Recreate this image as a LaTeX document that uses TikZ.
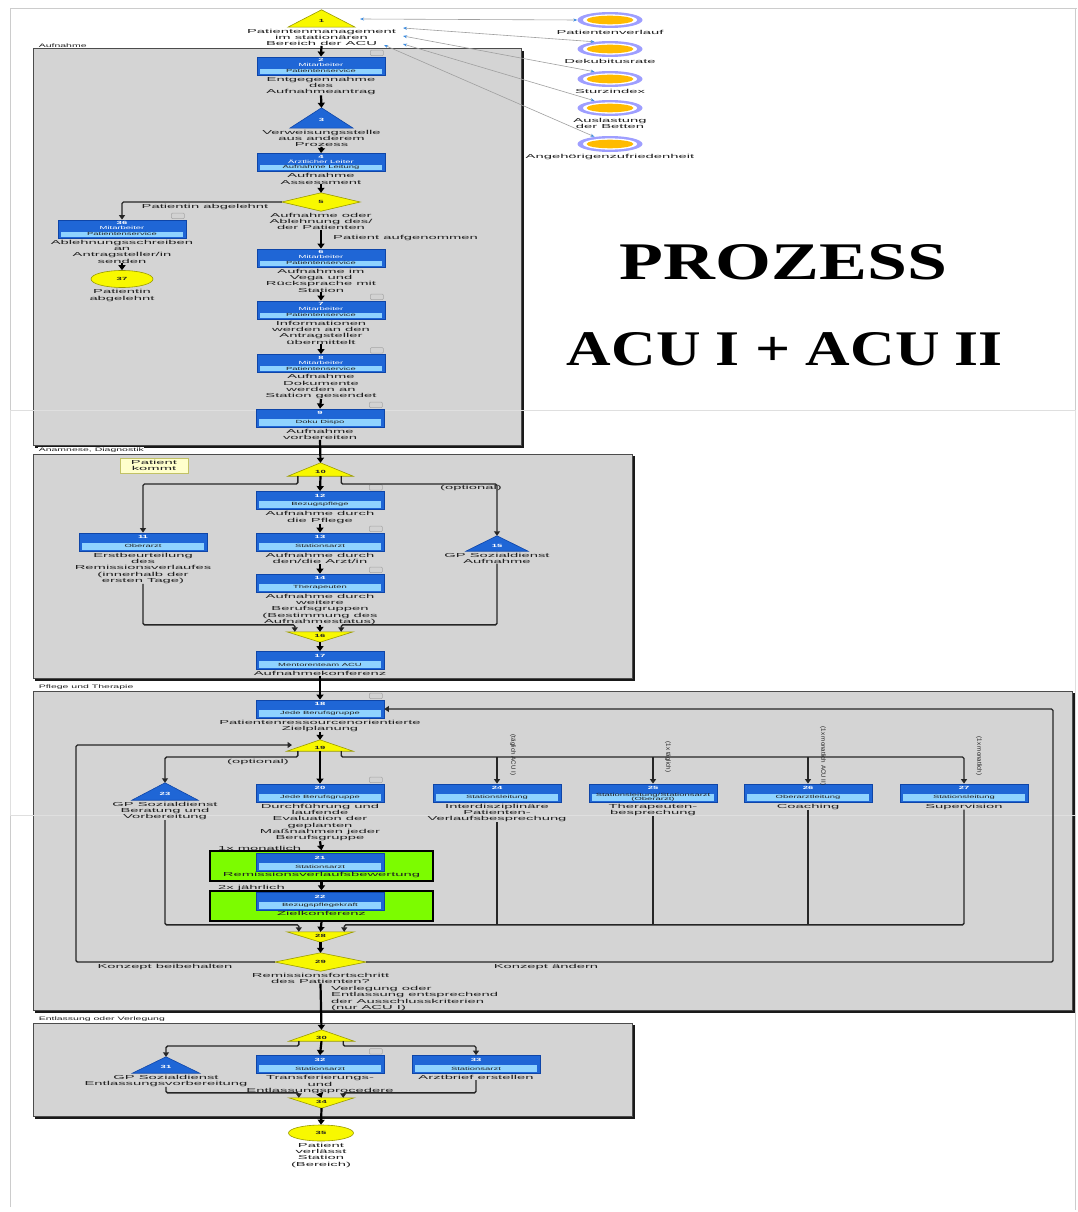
\documentclass[tikz,border=0pt]{standalone}
\usepackage{fontspec}
\usepackage{graphicx}
\setmainfont{Liberation Serif}
\newfontfamily\wf{Liberation Sans}[FakeStretch=2.55]
\newfontfamily\wg{Liberation Sans}[FakeStretch=2.1]
\newfontfamily\vf{Liberation Sans}
\usetikzlibrary{arrows.meta,calc,shapes.geometric}
\definecolor{dblue}{HTML}{1F66D6}
\definecolor{lblue}{HTML}{8FD3FF}
\definecolor{bbord}{HTML}{0E45A8}
\definecolor{lanef}{HTML}{D4D4D4}
\definecolor{ylw}{HTML}{F8F800}
\definecolor{yb}{HTML}{9A9A00}
\definecolor{ring}{HTML}{9E9EFF}
\definecolor{core}{HTML}{FFBB00}
\definecolor{grn}{HTML}{7CFC00}
\definecolor{txt}{HTML}{202020}
\definecolor{notef}{HTML}{FFFFCC}
\definecolor{assocblue}{HTML}{3C8CE0}
\tikzset{
 lbl/.style={font=\wf\fontsize{5.8}{6.3}\selectfont, align=center, inner sep=0pt, text=txt},
 lanelbl/.style={font=\wg\fontsize{5}{5}\selectfont, inner sep=0.6pt, fill=white, anchor=south west, text=txt},
 vlbl/.style={font=\vf\fontsize{6.2}{6.2}\selectfont, inner sep=0pt, text=txt, rotate=-90},
 tbox/.style={rectangle, minimum width=128pt, minimum height=18pt, inner sep=0pt, fill=dblue, draw=bbord, line width=0.8pt},
 numtxt/.style={font=\wg\fontsize{4.5}{4.5}\selectfont\bfseries, inner sep=0pt},
 roletxt/.style={font=\wg\fontsize{4.5}{4.6}\selectfont, inner sep=0pt, align=center},
 main/.style={line width=2.2pt, draw=black, -{Triangle[length=5pt,width=7pt]}},
 br/.style={line width=1.4pt, draw=black!85, rounded corners=1.5pt},
 bra/.style={br, -{Triangle[length=4.5pt,width=6pt]}},
 assoc/.style={draw=gray!75, line width=0.6pt, {Stealth[length=4pt,width=3pt,color=assocblue]}-{Stealth[length=4pt,width=3pt,color=assocblue]}},
 ytri/.style={fill=ylw, draw=yb, line width=0.6pt},
 btri/.style={fill=dblue, draw=bbord, line width=0.6pt},
 icon/.style={fill=gray!35, draw=gray!70, line width=0.5pt, rounded corners=1pt},
 grnbox/.style={rectangle, fill=grn, draw=black, line width=1.3pt, minimum width=223pt, minimum height=30pt, inner sep=0pt},
 yell/.style={ellipse, fill=ylw, draw=yb, line width=0.6pt, inner sep=0pt, font=\wg\fontsize{4.5}{4.5}\selectfont\bfseries, text=txt},
}
% lane: x1,y1,x2,y2
\newcommand\lane[4]{%
 \fill[lanef] (#1,#2) rectangle (#3,#4);
 \draw[black!70,line width=1pt] (#1,#2) rectangle (#3,#4);
 \draw[black!90,line width=2pt] (#1+2,#4+1.5) -- (#3+1.5,#4+1.5) -- (#3+1.5,#2+2);}
% task box: name,x,y,num,dark role,light role,icon
\newcommand\tb[7]{%
 \node[tbox] (#1) at (#2,#3) {};
 \if\relax\detokenize{#5}\relax
   \fill[lblue] ($(#1.south west)+(3pt,1.5pt)$) rectangle ($(#1.east)+(-3pt,-0.5pt)$);
   \node[numtxt,text=white] at ($(#1.center)+(0,4.6pt)$) {#4};
   \node[roletxt,text=txt] at ($(#1.center)+(0,-4.3pt)$) {#6};
 \else
   \fill[lblue] ($(#1.south west)+(3pt,1.5pt)$) rectangle ($(#1.east)+(-3pt,-2.6pt)$);
   \node[numtxt,text=white] at ($(#1.center)+(0,6pt)$) {#4};
   \node[roletxt,text=white] at ($(#1.center)+(0,0.9pt)$) {#5};
   \node[roletxt,text=txt] at ($(#1.center)+(0,-5.3pt)$) {#6};
 \fi
 \ifnum#7=1 \draw[icon] ($(#1.north east)+(-15pt,1pt)$) rectangle ($(#1.north east)+(-2pt,6.5pt)$);\fi}
% label under node: name, node, text
\newcommand\lb[3]{\node[lbl,anchor=north] (#1) at ($(#2.south)+(0,-1.5pt)$) {#3};}
% up triangle: name,x,y,w,h,style,num,numcolor
\newcommand\utri[8]{%
 \node[inner sep=0pt,minimum width=#4pt,minimum height=#5pt] (#1) at (#2,#3) {};
 \filldraw[#6] (#1.south west) -- (#1.north) -- (#1.south east) -- cycle;
 \node[numtxt,text=#8] at ($(#1.center)+(0,-2pt)$) {#7};}
% down triangle
\newcommand\dtri[6]{%
 \node[inner sep=0pt,minimum width=#4pt,minimum height=#5pt] (#1) at (#2,#3) {};
 \filldraw[ytri] (#1.north west) -- (#1.north east) -- (#1.south) -- cycle;
 \node[numtxt,text=txt] at ($(#1.center)+(0,1.5pt)$) {#6};}
% diamond
\newcommand\dia[6]{%
 \node[inner sep=0pt,minimum width=#4pt,minimum height=#5pt] (#1) at (#2,#3) {};
 \filldraw[ytri] (#1.west) -- (#1.north) -- (#1.east) -- (#1.south) -- cycle;
 \node[numtxt,text=txt] at (#1.center) {#6};}
% kpi circle
\newcommand\kpi[4]{%
 \node[ellipse, fill=ring, minimum width=65pt, minimum height=16pt, inner sep=0pt] (#1) at (#2,#3) {};
 \fill[white] (#1.center) ellipse [x radius=27pt, y radius=5.6pt];
 \fill[core] (#1.center) ellipse [x radius=23.5pt, y radius=4.3pt];
 \lb{#1l}{#1}{#4}}
\begin{document}
\begin{tikzpicture}[x=1pt,y=-1pt]
\useasboundingbox (0,0) rectangle (1077,1212);
\fill[white] (0,0) rectangle (1077,1212);
\draw[gray!40, line width=0.8pt] (10,1207) -- (10,8) -- (1077,8);
\draw[gray!40, line width=0.8pt] (1075,8) -- (1075,1210);
% lanes
\lane{33}{49}{521}{445}
\lane{33}{454}{632}{678}
\lane{33}{691}{1072}{1010}
\lane{33}{1023}{632}{1116}
\draw[gray!25, line width=1pt] (10,410) rectangle (1075,815);
\node[lanelbl] (ln1) at (38,48) {Aufnahme};
\node[lanelbl] (ln2) at (38,453.2) {Anamnese, Diagnostik};
\node[lanelbl] (ln3) at (38,690) {Pflege und Therapie};
\node[lanelbl] (ln4) at (38,1022) {Entlassung oder Verlegung};
% title
\node[inner sep=0pt] (title1) at (783.5,262.5) {\resizebox{327pt}{35pt}{\bfseries PROZESS}};
\node[inner sep=0pt] (title2) at (785,349.5) {\resizebox{436pt}{33pt}{\bfseries ACU I + ACU II}};
% ---------- Aufnahme
\utri{T1}{321.5}{18.5}{67}{17}{ytri}{1}{txt}
\lb{T1l}{T1}{Patientenmanagement\\im stationären\\Bereich der ACU}
\kpi{K1}{610}{20}{Patientenverlauf}
\kpi{K2}{610}{49}{Dekubitusrate}
\kpi{K3}{610}{79}{Sturzindex}
\kpi{K4}{610}{108}{Auslastung\\der Betten}
\kpi{K5}{610}{144}{Angehörigenzufriedenheit}
\coordinate (a1) at (360,19);
\coordinate (a2) at (403,28);
\coordinate (a3) at (403,36);
\coordinate (a4) at (403,44);
\coordinate (a5) at (384,45);
\draw[assoc] (a1) -- (K1.west);
\draw[assoc] (a2) -- (K2.155);
\draw[assoc] (a3) -- (K3.155);
\draw[assoc] (a4) -- (K4.155);
\draw[assoc] (a5) -- (K5.155);
\tb{B2}{321}{66}{2}{Mitarbeiter}{Patientenservice}{1}
\lb{B2l}{B2}{Entgegennahme\\des\\Aufnahmeantrag}
\utri{T3}{321.5}{118}{63}{20}{btri}{3}{white}
\lb{T3l}{T3}{Verweisungsstelle\\aus anderem\\Prozess}
\tb{B4}{321}{162.5}{4}{Ärztlicher Leiter}{Aufnahme Leitung}{0}
\lb{B4l}{B4}{Aufnahme\\Assessment}
\dia{D5}{321}{202}{78}{18}{5}
\lb{D5l}{D5}{Aufnahme oder\\Ablehnung des/\\der Patienten}
\tb{B36}{122}{229}{36}{Mitarbeiter}{Patientenservice}{1}
\lb{B36l}{B36}{Ablehnungsschreiben\\an\\Antragsteller/in\\senden}
\node[yell, minimum width=62pt, minimum height=17pt] (E37) at (122,279) {37};
\lb{E37l}{E37}{Patientin\\abgelehnt}
\tb{B6}{321}{258}{6}{Mitarbeiter}{Patientenservice}{0}
\lb{B6l}{B6}{Aufnahme im\\Vega und\\Rücksprache mit\\Station}
\tb{B7}{321}{310}{7}{Mitarbeiter}{Patientenservice}{1}
\lb{B7l}{B7}{Informationen\\werden an den\\Antragsteller\\übermittelt}
\tb{B8}{321}{363.5}{8}{Mitarbeiter}{Patientenservice}{1}
\lb{B8l}{B8}{Aufnahme\\Dokumente\\werden an\\Station gesendet}
\tb{B9}{320}{418}{9}{}{Doku Dispo}{1}
\lb{B9l}{B9}{Aufnahme\\vorbereiten}
\draw[main] (T1l.south) -- (B2.north);
\draw[main] (B2l.south) -- (T3.north);
\draw[main] (T3l.south) -- (B4.north);
\draw[main] (B4l.south) -- (D5.north);
\draw[main] (D5l.south) -- (B6.north);
\node[lbl,anchor=west] (lpa) at (333,238) {Patient aufgenommen};
\draw[bra] (D5.west) -| (B36.north);
\node[lbl,anchor=north] (lpb) at (205,204) {Patientin abgelehnt};
\draw[main] (B36l.south) -- (E37.north);
\draw[main] (B6l.south) -- (B7.north);
\draw[main] (B7l.south) -- (B8.north);
\draw[main] (B8l.south) -- (B9.north);
% ---------- Anamnese, Diagnostik
\node[lbl, fill=notef, draw=yb!60, line width=0.5pt, minimum width=68pt, minimum height=15pt] (note) at (154,465.5) {Patient\\kommt};
\utri{T10}{320.5}{469.5}{65}{13}{ytri}{10}{txt}
\draw[main] (B9l.south) -- (T10.north);
\tb{B12}{320}{500.5}{12}{}{Bezugspflege}{1}
\lb{B12l}{B12}{Aufnahme durch\\die Pflege}
\tb{B13}{320}{542}{13}{}{Stationsarzt}{1}
\lb{B13l}{B13}{Aufnahme durch\\den/die Arzt/in}
\tb{B14}{320}{583}{14}{}{Therapeuten}{1}
\lb{B14l}{B14}{Aufnahme durch\\weitere\\Berufsgruppen\\(Bestimmung des\\Aufnahmestatus)}
\tb{B11}{143}{542}{11}{}{Oberarzt}{0}
\lb{B11l}{B11}{Erstbeurteilung\\des\\Remissionsverlaufes\\(innerhalb der\\ersten Tage)}
\utri{T15}{497}{543.5}{62}{15}{btri}{15}{white}
\lb{T15l}{T15}{GP Sozialdienst\\Aufnahme}
\node[lbl] (opt1) at (471,488) {(optional)};
\dtri{T16}{320}{637}{66}{10}{16}
\tb{B17}{320}{660.5}{17}{}{Mentorenteam ACU}{0}
\lb{B17l}{B17}{Aufnahmekonferenz}
\draw[main] (T10.south) -- (B12.north);
\draw[bra] ($(T10.south west)+(10pt,0)$) |- (143,484) -- (B11.north);
\draw[bra] ($(T10.south east)+(-12pt,0)$) |- (497,484) -- (T15.north);
\draw[main] (B12l.south) -- (B13.north);
\draw[main] (B13l.south) -- (B14.north);
\draw[main] (B14l.south) -- (T16.north);
\draw[bra] (B11l.south) |- ($(T16.north west)+(8pt,7pt)$) -- ($(T16.north west)+(8pt,0)$);
\draw[bra] (T15l.south) |- ($(T16.north east)+(-12pt,7pt)$) -- ($(T16.north east)+(-12pt,0)$);
\draw[main] (T16.south) -- (B17.north);
% ---------- Pflege und Therapie
\tb{B18}{320}{709}{18}{}{Jede Berufsgruppe}{1}
\lb{B18l}{B18}{Patientenressourcenorientierte\\Zielplanung}
\draw[main] (B17l.south) -- (B18.north);
\utri{T19}{320}{745.5}{66}{11}{ytri}{19}{txt}
\draw[main] (B18l.south) -- (T19.north);
\utri{T23}{165}{791.5}{66}{17}{btri}{23}{white}
\lb{T23l}{T23}{GP Sozialdienst\\Beratung und\\Vorbereitung}
\tb{B20}{320}{793}{20}{}{Jede Berufsgruppe}{1}
\lb{B20l}{B20}{Durchführung und\\laufende\\Evaluation der\\geplanten\\Maßnahmen jeder\\Berufsgruppe}
\tb{B24}{497}{793}{24}{}{Stationsleitung}{0}
\lb{B24l}{B24}{Interdisziplinäre\\Patienten-\\Verlaufsbesprechung}
\tb{B25}{653}{793}{25}{}{Stationsleitung/Stationsarzt\\(Oberarzt)}{0}
\lb{B25l}{B25}{Therapeuten-\\besprechung}
\tb{B26}{808}{793}{26}{}{Oberarztleitung}{0}
\lb{B26l}{B26}{Coaching}
\tb{B27}{964}{793}{27}{}{Stationsleitung}{0}
\lb{B27l}{B27}{Supervision}
\draw[main] (T19.south) -- (B20.north);
\draw[bra] ($(T19.south west)+(11pt,0)$) |- (165,757) -- (T23.north);
\node[lbl] (opt2) at (258,762) {(optional)};
\draw[bra] ($(T19.south east)+(-12pt,0)$) |- (964,757) -- (B27.north);
\coordinate (j24) at (497,757);
\coordinate (j25) at (653,757);
\coordinate (j26) at (808,757);
\draw[bra] (j24) -- (B24.north);
\draw[bra] (j25) -- (B25.north);
\draw[bra] (j26) -- (B26.north);
\node[vlbl] (v24) at (513,755) {(täglich ACU I)};
\node[vlbl] (v25) at (668,757) {(1x täglich)};
\node[vlbl] (v26) at (823,756) {(1x monatlich ACU II)};
\node[vlbl] (v27) at (979,756) {(1x monatlich)};
\node[grnbox] (G1) at (321.5,866) {};
\tb{B21}{320}{862.5}{21}{}{Stationsarzt}{0}
\node[lbl,anchor=north] (B21l) at (321.5,872.5) {Remissionsverlaufsbewertung};
\node[lbl,anchor=south west] (m1) at (218,851) {1x monatlich};
\node[grnbox] (G2) at (321.5,906) {};
\tb{B22}{320}{901.5}{22}{}{Bezugspflegekraft}{0}
\node[lbl,anchor=north] (B22l) at (321.5,911.5) {Zielkonferenz};
\node[lbl,anchor=south west] (m2) at (218,891) {2x jährlich};
\draw[main] (B20l.south) -- (G1.north);
\draw[main] (G1.south) -- (G2.north);
\dtri{T28}{320.5}{937}{67}{10}{28}
\draw[main] (G2.south) -- (T28.north);
\draw[bra] (T23l.south) |- ($(T28.north west)+(12pt,7pt)$) -- ($(T28.north west)+(12pt,0)$);
\draw[bra] (B27l.south) |- ($(T28.north east)+(-10pt,7pt)$) -- ($(T28.north east)+(-10pt,0)$);
\coordinate (k24) at (497,925);
\coordinate (k25) at (653,925);
\coordinate (k26) at (808,925);
\draw[br] (B24l.south) -- (k24);
\draw[br] (B25l.south) -- (k25);
\draw[br] (B26l.south) -- (k26);
\dia{D29}{320.5}{962}{91}{18}{29}
\lb{D29l}{D29}{Remissionsfortschritt\\des Patienten?}
\draw[main] (T28.south) -- (D29.north);
\coordinate (c19) at (292,745);
\draw[bra] (D29.west) -| (76,745) -- (c19);
\node[lbl] (kb) at (165,967) {Konzept beibehalten};
\draw[bra] (D29.east) -| (1053,709) -- (B18.east);
\node[lbl] (ka) at (546,967) {Konzept ändern};
% ---------- Entlassung oder Verlegung
\utri{T30}{321.5}{1035.5}{65}{11}{ytri}{30}{txt}
\draw[main] (D29l.south) -- (T30.north);
\node[lbl,anchor=north west,align=left] (vl) at (331,986) {Verlegung oder\\Entlassung entsprechend\\der Ausschlusskriterien\\(nur ACU I)};
\utri{T31}{166}{1065}{67}{16}{btri}{31}{white}
\lb{T31l}{T31}{GP Sozialdienst\\Entlassungsvorbereitung}
\tb{B32}{320}{1064.5}{32}{}{Stationsarzt}{1}
\lb{B32l}{B32}{Transferierungs-\\und\\Entlassungsprocedere}
\tb{B33}{476}{1064.5}{33}{}{Stationsarzt}{0}
\lb{B33l}{B33}{Arztbrief erstellen}
\dtri{T34}{321.5}{1103}{65}{10}{34}
\node[yell, minimum width=65pt, minimum height=16pt] (E35) at (321,1133) {35};
\lb{E35l}{E35}{Patient\\verlässt\\Station\\(Bereich)}
\draw[main] (T30.south) -- (B32.north);
\draw[bra] ($(T30.south west)+(10pt,0)$) |- (166,1046) -- (T31.north);
\draw[bra] ($(T30.south east)+(-11pt,0)$) |- (476,1046) -- (B33.north);
\draw[main] (B32l.south) -- (T34.north);
\draw[bra] (T31l.south) |- ($(T34.north west)+(10pt,5pt)$) -- ($(T34.north west)+(10pt,0)$);
\draw[bra] (B33l.south) |- ($(T34.north east)+(-11pt,5pt)$) -- ($(T34.north east)+(-11pt,0)$);
\draw[main] (T34.south) -- (E35.north);
\end{tikzpicture}
\end{document}
